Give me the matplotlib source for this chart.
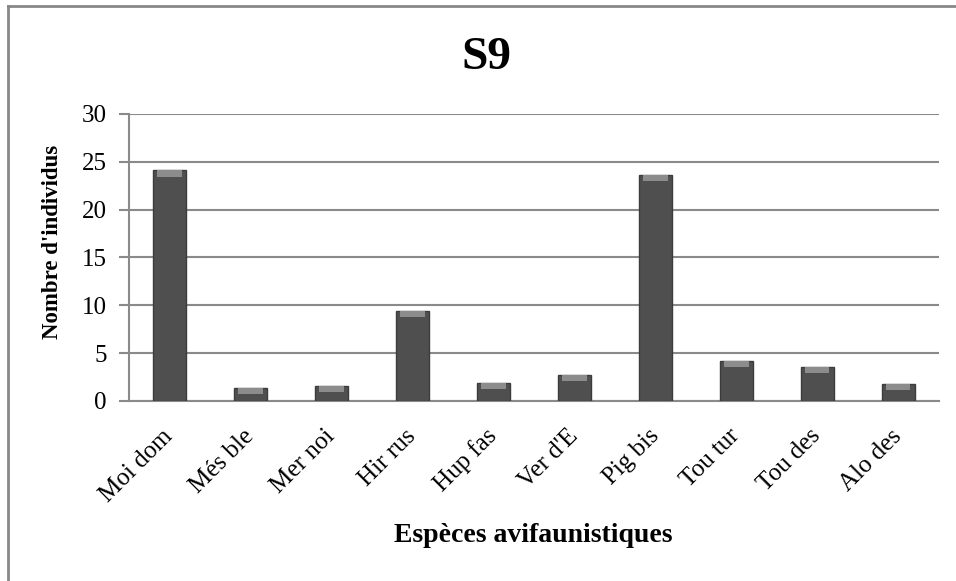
import matplotlib.pyplot as plt
from matplotlib.lines import Line2D
import numpy as np

# data
especes = ["Moi dom", "Més ble", "Mer noi", "Hir rus", "Hup fas",
           "Ver d'E", "Pig bis", "Tou tur", "Tou des", "Alo des"]
individus = [24.1, 1.35, 1.6, 9.4, 1.85, 2.7, 23.6, 4.2, 3.55, 1.75]

plt.rcParams['font.family'] = ['Liberation Serif', 'DejaVu Serif']

fig = plt.figure(figsize=(9.56, 5.81), dpi=100)
ax = fig.add_axes([0.135, 0.31, 0.847, 0.494])

x = np.arange(len(especes))
vals = np.array(individus)

# bars with a lighter bevel at the top
ax.bar(x, vals, width=0.4, color='#4f4f4f', edgecolor='#3c3c3c', linewidth=1, zorder=3)
cap = 0.65
ax.bar(x, np.full(len(vals), cap), bottom=vals - cap, width=0.3,
       color='#8c8c8c', edgecolor='none', zorder=4)

ax.set_xlim(-0.5, len(especes) - 0.5)
ax.set_ylim(0, 30)
ax.set_yticks(range(0, 31, 5))
ax.yaxis.grid(True, color='#8a8a8a', linewidth=1.5, zorder=0)
ax.set_axisbelow(True)

for s in ['top', 'right']:
    ax.spines[s].set_visible(False)
ax.spines['left'].set_color('#8a8a8a')
ax.spines['left'].set_linewidth(1.5)
ax.spines['bottom'].set_color('#8a8a8a')
ax.spines['bottom'].set_linewidth(1.5)

ax.tick_params(axis='y', length=7, width=1.5, color='#8a8a8a', labelsize=18, pad=9)
ax.tick_params(axis='x', length=0, labelsize=18, pad=23)
ax.set_xticks(x)
ax.set_xticklabels(especes, rotation=45, ha='right', va='center', rotation_mode='anchor')

ax.set_ylabel("Nombre d'individus", fontsize=16.5, fontweight='bold')
ax.yaxis.set_label_coords(-0.082, 0.554)
ax.set_xlabel("Espèces avifaunistiques", fontsize=20, fontweight='bold')
ax.xaxis.set_label_coords(0.499, -0.424)

fig.text(0.509, 0.90, "S9", fontsize=34, fontweight='bold', ha='center', va='center')

# outer frame of the chart (top and left edges visible)
fig.add_artist(Line2D([8/956, 8/956], [0, 1 - 6/581], transform=fig.transFigure,
                      color='#888888', linewidth=2))
fig.add_artist(Line2D([8/956, 1], [1 - 6/581, 1 - 6/581], transform=fig.transFigure,
                      color='#888888', linewidth=2))

plt.savefig('out.png', dpi=100)
